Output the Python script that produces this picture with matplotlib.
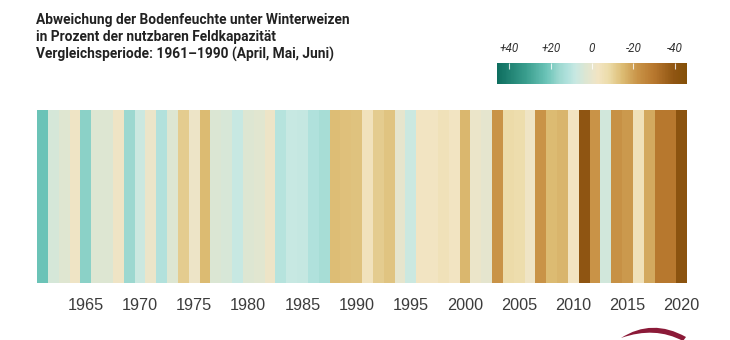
import numpy as np
import matplotlib
matplotlib.use("Agg")
import matplotlib.pyplot as plt
from matplotlib.colors import LinearSegmentedColormap, Normalize
from matplotlib.patches import PathPatch
from matplotlib.path import Path

# ---------------- data ----------------
years = list(range(1961, 2021))
deviation = [
    22, 5, 2.5, -2, 18, 3, 3, -2, 16, 7.5,        # 1961-1970
    -1, 11.5, 3, -11.5, -1.5, -15, 3.5, 4.5, 8, 3,  # 1971-1980
    2, -1.5, 11, 8, 8.5, 12, 14, -14.5, -14, -13.5, # 1981-1990
    -4, -11.5, -13, 0.5, 7.5, -3, -3, -5, -3, -15.5, # 1991-2000
    -1, 1, -22, -8, -7.5, -2, -22, -15, -16, -3,   # 2001-2010
    -40, -22, 6, -23, -21, -5, -18, -30, -30, -42, # 2011-2020
]
tick_years = [1965, 1970, 1975, 1980, 1985, 1990, 1995, 2000, 2005, 2010, 2015, 2020]
cbar_ticks = [40, 20, 0, -20, -40]
cbar_labels = ["+40", "+20", "0", "-20", "-40"]
title_lines = [
    "Abweichung der Bodenfeuchte unter Winterweizen",
    "in Prozent der nutzbaren Feldkapazität",
    "Vergleichsperiode: 1961\u20131990 (April, Mai, Juni)",
]

# ---------------- colour scale ----------------
VMIN, VMAX = -46, 46
anchors = [
    (-46, "#845008"), (-40, "#8f5512"), (-30, "#b8782e"), (-22, "#c99448"),
    (-15, "#dcbb72"), (-8, "#ecdcaa"), (-3, "#f2e4c2"), (0, "#e8e5cc"),
    (3, "#dde6d2"), (8, "#c8e8e2"), (12, "#b0e1dc"), (16, "#9dd8d0"),
    (22, "#6cc4b8"), (32, "#3a9e8e"), (46, "#0e6e5f"),
]
cmap = LinearSegmentedColormap.from_list(
    "soil", [((v - VMIN) / (VMAX - VMIN), c) for v, c in anchors])
norm = Normalize(VMIN, VMAX)

W, H = 730, 340
fig = plt.figure(figsize=(W / 100, H / 100), dpi=100)
fig.patch.set_facecolor("white")

# ---------------- stripes ----------------
ax = fig.add_axes([37 / W, (H - 283) / H, 650 / W, 173 / H])
edges = np.append(np.array(years) - 0.5, years[-1] + 0.5)
ax.pcolormesh(edges, [0, 1], np.array([deviation]), cmap=cmap, norm=norm,
              edgecolors="none", antialiased=False)
ax.set_xlim(edges[0], edges[-1])
ax.set_ylim(0, 1)
for s in ax.spines.values():
    s.set_visible(False)
ax.set_yticks([])
ax.set_xticks(tick_years)
ax.set_xticklabels([str(y) for y in tick_years],
                   family=["Liberation Sans", "DejaVu Sans"], fontsize=11.7,
                   color="#3c3c3c")
ax.tick_params(axis="x", length=0, pad=11)

# ---------------- colour bar ----------------
cax = fig.add_axes([497 / W, (H - 84) / H, 190 / W, 21 / H])
grad = np.linspace(VMIN, VMAX, 400)
gedges = np.linspace(VMIN, VMAX, 401)
cax.pcolormesh(gedges, [0, 1], grad[None, :], cmap=cmap, norm=norm,
               edgecolors="none", antialiased=False)
cax.set_xlim(VMAX, VMIN)
cax.set_ylim(0, 1)
for s in cax.spines.values():
    s.set_visible(False)
cax.set_yticks([])
cax.xaxis.tick_top()
cax.set_xticks(cbar_ticks)
cax.set_xticklabels(cbar_labels, style="italic",
                    family=["Roboto", "DejaVu Sans"],
                    fontsize=8.5, color="#333333")
cax.tick_params(axis="x", length=0, pad=6)
cax.vlines(cbar_ticks, 0.72, 1.0, color="white", lw=0.8, alpha=0.8)

# ---------------- title ----------------
texts = []
for i, line in enumerate(title_lines):
    t = fig.text(36 / W, 1 - (20 + 17.3 * i) / H, line, ha="left", va="center",
                 fontsize=11, fontweight="bold", color="#222222",
                 family=["Roboto", "DejaVu Sans"])
    texts.append(t)
fig.canvas.draw()
r = fig.canvas.get_renderer()
w = texts[0].get_window_extent(r).width
scale = 314 / w
for t in texts:
    t.set_fontsize(t.get_fontsize() * scale)

# ---------------- logo swoosh ----------------
def P(x, y):
    return (x / W, 1 - y / H)

verts = [P(621, 338), P(652, 318), P(686, 337), P(683, 341),
         P(655, 326), P(621, 338), P(621, 338)]
codes = [Path.MOVETO, Path.CURVE3, Path.CURVE3, Path.LINETO,
         Path.CURVE3, Path.CURVE3, Path.CLOSEPOLY]
fig.patches.append(PathPatch(Path(verts, codes), transform=fig.transFigure,
                             facecolor="#8b1a38", edgecolor="none"))

fig.savefig("out.png", dpi=100)
